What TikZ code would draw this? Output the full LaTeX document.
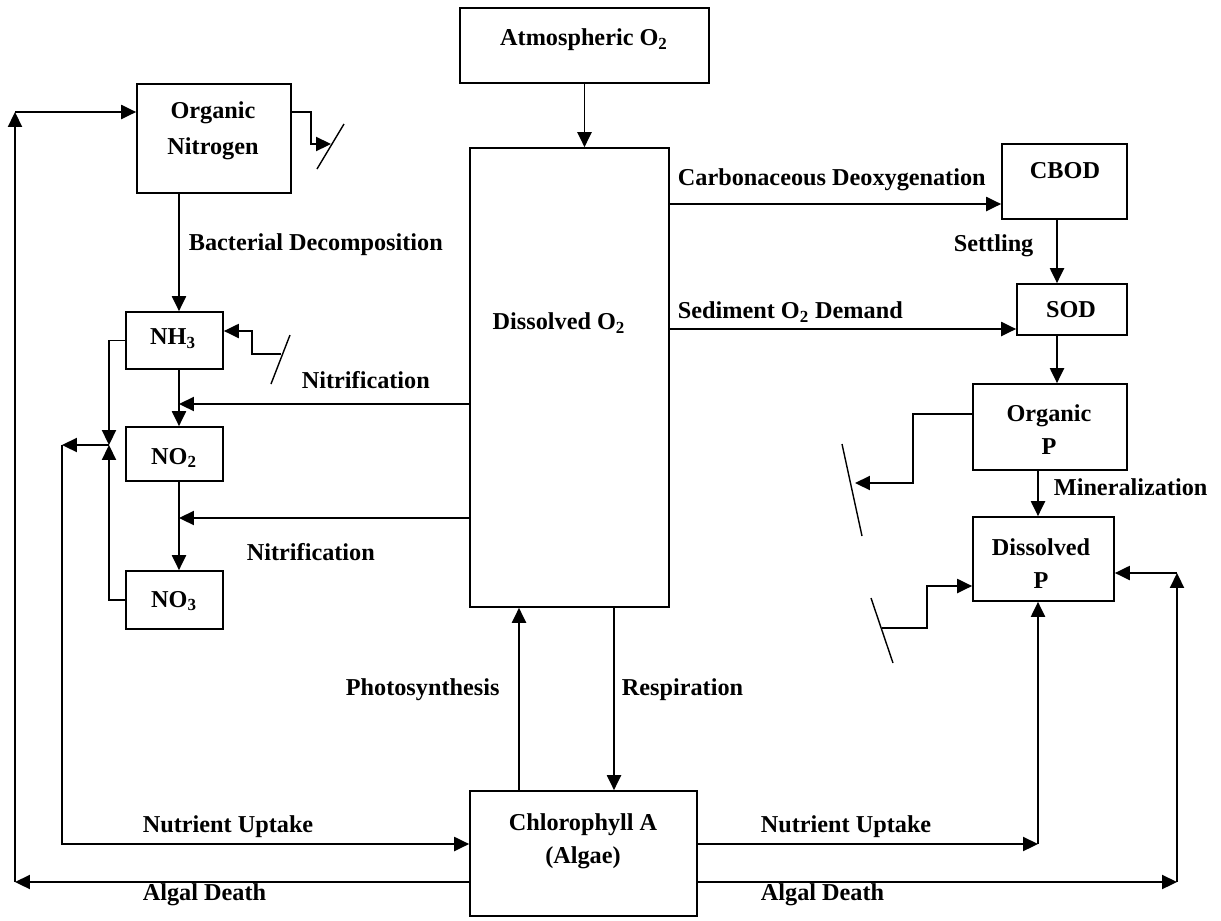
\documentclass[tikz,border=0pt]{standalone}
\usepackage{fontspec}
\setmainfont{Liberation Serif}
\usetikzlibrary{arrows.meta}

\begin{document}
\begin{tikzpicture}[x=0.02cm,y=-0.02cm,line width=1pt,>={Triangle[length=8.5pt,width=8pt]},
    box node/.style={draw,rectangle,inner sep=0pt},
    name node/.style={font=\fontsize{13.8}{18.7}\selectfont\bfseries,align=center,inner sep=0pt},
    flow node/.style={font=\fontsize{13.8}{18.7}\selectfont\bfseries,anchor=west,inner sep=0pt},
    cut line/.style={line width=0.8pt}]
\useasboundingbox (0,0) rectangle (1221,920);

\node[box node,minimum width=4.98cm,minimum height=1.5cm]  (atm)  at (584.5,45.5)  {};
\node[box node,minimum width=3.08cm,minimum height=2.18cm] (orgn) at (214,138.5)   {};
\node[box node,minimum width=3.98cm,minimum height=9.18cm] (dox)  at (569.5,377.5) {};
\node[box node,minimum width=2.5cm,minimum height=1.5cm]   (cbod) at (1064.5,181.5) {};
\node[box node,minimum width=2.2cm,minimum height=1.02cm]  (sod)  at (1072,309.5)  {};
\node[box node,minimum width=3.08cm,minimum height=1.72cm] (orgp) at (1050,427)    {};
\node[box node,minimum width=2.82cm,minimum height=1.68cm] (disp) at (1043.5,559)  {};
\node[box node,minimum width=1.94cm,minimum height=1.14cm] (nh3)  at (174.5,340.5) {};
\node[box node,minimum width=1.94cm,minimum height=1.08cm] (no2)  at (174.5,454)   {};
\node[box node,minimum width=1.94cm,minimum height=1.16cm] (no3)  at (174.5,600)   {};
\node[box node,minimum width=4.54cm,minimum height=2.5cm]  (chl)  at (583.5,853.5) {};

\node[name node] (atm text)  at (584,40)   {Atmospheric O\textsubscript{2}};
\node[name node,font=\fontsize{13.8}{20.4}\selectfont\bfseries] (orgn text) at (213,131) {Organic\\Nitrogen};
\node[name node] (dox text)  at (559,323)  {Dissolved O\textsubscript{2}};
\node[name node] (cbod text) at (1065,171) {CBOD};
\node[name node] (sod text)  at (1071,310) {SOD};
\node[name node] (orgp text) at (1049,430) {Organic\\P};
\node[name node] (disp text) at (1041,564) {Dissolved\\P};
\node[name node] (nh3 text)  at (173,339)  {NH\textsubscript{3}};
\node[name node] (no2 text)  at (174,458)  {NO\textsubscript{2}};
\node[name node] (no3 text)  at (174,601)  {NO\textsubscript{3}};
\node[name node] (chl text)  at (583,841)  {Chlorophyll A\\(Algae)};

\coordinate (xn)   at (179,0);
\coordinate (xph)  at (519,0);
\coordinate (xre)  at (614,0);
\coordinate (xsod) at (1057,0);
\coordinate (xmin) at (1038,0);
\coordinate (ycb)  at (0,204);
\coordinate (ysod) at (0,329);
\coordinate (nit a) at (179,404);
\coordinate (nit b) at (179,518);
\coordinate (on bend) at (311,112);
\coordinate (on sink) at (331,144);
\coordinate (nh source) at (281,354);
\coordinate (nh bend) at (252,331);
\coordinate (loop) at (109,445);
\coordinate (uptake top) at (62,445);
\coordinate (uptake corner) at (62,844);
\coordinate (death corner) at (15,882);
\coordinate (death top) at (15,112);
\coordinate (op bend) at (913,414);
\coordinate (op sink) at (855,483);
\coordinate (dp source) at (882,628);
\coordinate (dp bend) at (927,586);
\coordinate (uptake right) at (1038,844);
\coordinate (death right) at (1177,882);
\coordinate (death up) at (1177,573);

\draw[->] (atm.south) -- (atm.south |- dox.north);
\draw[->] (orgn.south -| xn) -- (nh3.north -| xn);
\draw[->] (nh3.south -| xn) -- (no2.north -| xn);
\draw[->] (no2.south -| xn) -- (no3.north -| xn);
\draw[->] (dox.west |- nit a) -- (nit a);
\draw[->] (dox.west |- nit b) -- (nit b);
\draw[->] (orgn.east |- on bend) -- (on bend) |- (on sink);
\draw[cut line] (317,169) -- (344,124);
\draw[->] (nh source) -| (nh bend) -- (nh3.east |- nh bend);
\draw[cut line] (271,384) -- (290,335);
\draw[->] (nh3.west) -| (loop);
\draw[->] (no3.west) -| (loop);
\draw[->] (loop) -- (uptake top);
\draw[->] (uptake top) -- (uptake corner) -- (chl.west |- uptake corner);
\draw[->] (chl.west |- death corner) -- (death corner);
\draw[->] (death corner) -- (death top);
\draw[->] (death top) -- (orgn.west |- death top);
\draw[->] (chl.north -| xph) -- (dox.south -| xph);
\draw[->] (dox.south -| xre) -- (chl.north -| xre);
\draw[->] (dox.east |- ycb) -- (cbod.west |- ycb);
\draw[->] (dox.east |- ysod) -- (sod.west |- ysod);
\draw[->] (cbod.south -| xsod) -- (sod.north -| xsod);
\draw[->] (sod.south -| xsod) -- (orgp.north -| xsod);
\draw[->] (orgp.south -| xmin) -- (disp.north -| xmin);
\draw[->] (orgp.west |- op bend) -- (op bend) |- (op sink);
\draw[cut line] (842,444) -- (862,536);
\draw[->] (dp source) -| (dp bend) -- (disp.west |- dp bend);
\draw[cut line] (871,598) -- (893,663);
\draw[->] (chl.east |- uptake right) -- (uptake right);
\draw[->] (uptake right) -- (disp.south -| uptake right);
\draw[->] (chl.east |- death right) -- (death right);
\draw[->] (death right) -- (death up);
\draw[->] (death up) -- (disp.east |- death up);

\node[flow node] (bact label) at (188,245) {Bacterial Decomposition};
\node[flow node] (nit a label) at (301,380) {Nitrification};
\node[flow node] (nit b label) at (246,552) {Nitrification};
\node[flow node] (cb label) at (677,180) {Carbonaceous Deoxygenation};
\node[flow node] (set label) at (953,246) {Settling};
\node[flow node] (sod label) at (677,312) {Sediment O\textsubscript{2} Demand};
\node[flow node] (min label) at (1053,487) {Mineralization};
\node[flow node] (ph label) at (345,690) {Photosynthesis};
\node[flow node] (re label) at (621,690) {Respiration};
\node[flow node] (up a label) at (142,827) {Nutrient Uptake};
\node[flow node] (up b label) at (760,827) {Nutrient Uptake};
\node[flow node] (ad a label) at (142,895) {Algal Death};
\node[flow node] (ad b label) at (760,895) {Algal Death};
\end{tikzpicture}
\end{document}
